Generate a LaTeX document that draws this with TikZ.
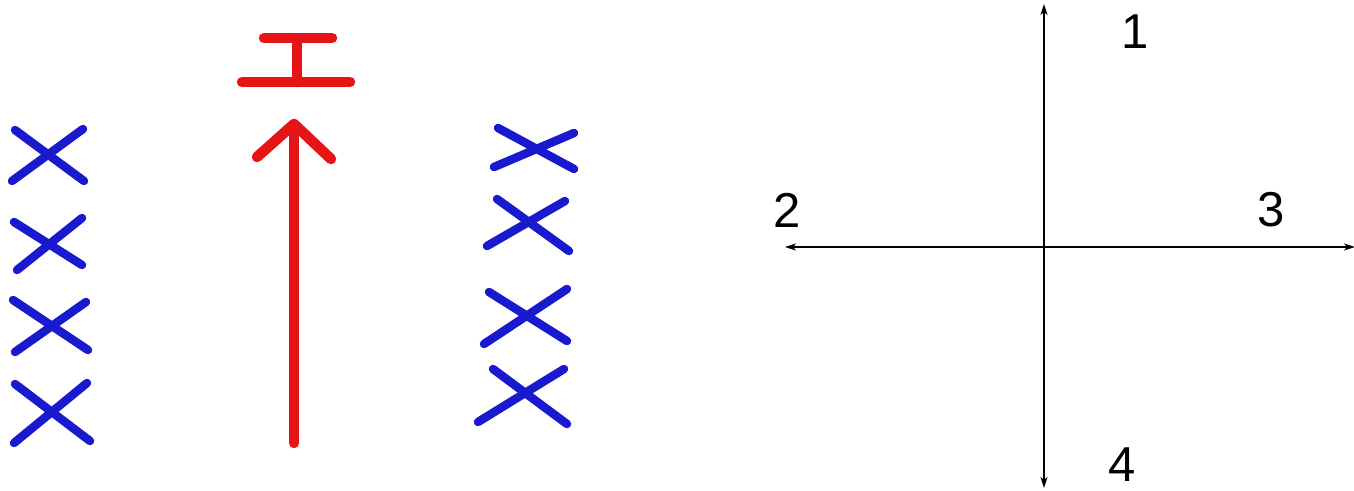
\documentclass[tikz,border=0pt]{standalone}
\usepackage{fontspec}
\setmainfont{Liberation Sans}
\usetikzlibrary{arrows.meta}
\begin{document}
\begin{tikzpicture}[x=1pt,y=-1pt,
  redline/.style={draw={rgb,255:red,230;green,20;blue,20},line width=10.5pt,line cap=round},
  cross/.style={draw={rgb,255:red,25;green,25;blue,205},line width=8.5pt,line cap=round},
  axis/.style={draw=black,line width=1.4pt,{Stealth[length=11pt,width=7pt,inset=3pt]}-{Stealth[length=11pt,width=7pt,inset=3pt]}},
  lbl/.style={inner sep=0pt,font=\fontsize{49}{59}\selectfont}]
\useasboundingbox (0,0) rectangle (1354,490);
% red symbol
\draw[redline] (264,38) -- (332,38);
\draw[redline] (297,38) -- (297,82);
\draw[redline] (242,82) -- (350,82);
\draw[redline] (294,443) -- (294,124);
\draw[redline,line join=round] (257,157) -- (294,124) -- (331,159);
% left crosses
\draw[cross] (15,130) -- (84,181); \draw[cross] (12,181) -- (83,129);
\draw[cross] (14,222) -- (82,265); \draw[cross] (17,270) -- (82,218);
\draw[cross] (13,300) -- (88,350); \draw[cross] (15,352) -- (86,302);
\draw[cross] (15,384) -- (90,441); \draw[cross] (14,443) -- (87,383);
% right crosses
\draw[cross] (498,128) -- (574,169); \draw[cross] (494,167) -- (574,133);
\draw[cross] (497,199) -- (569,251); \draw[cross] (487,246) -- (565,201);
\draw[cross] (489,292) -- (567,341); \draw[cross] (484,344) -- (567,289);
\draw[cross] (493,369) -- (567,424); \draw[cross] (478,422) -- (564,369);
% axes
\coordinate (top) at (1044,4);
\coordinate (bot) at (1044,488);
\coordinate (lft) at (785,247);
\coordinate (rgt) at (1355,247);
\draw[axis] (bot) -- (top);
\draw[axis] (lft) -- (rgt);
\node[lbl] (n1) at (1135,32) {1};
\node[lbl] (n2) at (787,210) {2};
\node[lbl] (n3) at (1271,210) {3};
\node[lbl] (n4) at (1122,465) {4};
\end{tikzpicture}
\end{document}
